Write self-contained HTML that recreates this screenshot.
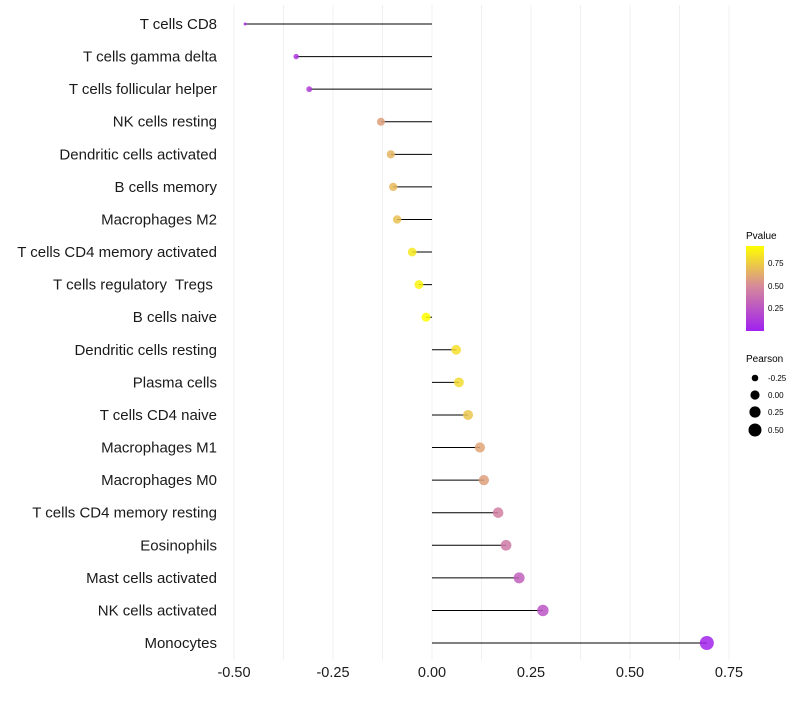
<!DOCTYPE html>
<html><head><meta charset="utf-8"><style>
body{margin:0;background:#fff;font-family:"Liberation Sans",sans-serif}
svg text{font-family:"Liberation Sans",sans-serif}
</style></head><body>
<svg id="c" width="800" height="700">
<defs><linearGradient id="pg" x1="0" y1="1" x2="0" y2="0">
<stop offset="0" stop-color="#a020f0"/><stop offset="0.53" stop-color="#d68a9a"/><stop offset="1" stop-color="#ffff00"/></linearGradient></defs>
<g id="grid"></g><g id="marks"></g><g id="ylab"></g><g id="xlab"></g>
<g>
<text x="746" y="239" font-size="10">Pvalue</text>
<rect x="746" y="246" width="18" height="85" fill="url(#pg)"/>
<text x="768" y="266" font-size="8">0.75</text><text x="768" y="289" font-size="8">0.50</text><text x="768" y="311" font-size="8">0.25</text>
</g>
<g>
<text x="746" y="362" font-size="10">Pearson</text>
<circle cx="755" cy="378" r="3.3"/><text x="768" y="381" font-size="8">-0.25</text>
<circle cx="755" cy="395" r="4.6"/><text x="768" y="398" font-size="8">0.00</text>
<circle cx="755" cy="412" r="5.6"/><text x="768" y="415" font-size="8">0.25</text>
<circle cx="755" cy="430" r="6.5"/><text x="768" y="433" font-size="8">0.50</text>
</g>
</svg>
<script>
const categories=["T cells CD8","T cells gamma delta","T cells follicular helper","NK cells resting","Dendritic cells activated","B cells memory","Macrophages M2","T cells CD4 memory activated","T cells regulatory  Tregs ","B cells naive","Dendritic cells resting","Plasma cells","T cells CD4 naive","Macrophages M1","Macrophages M0","T cells CD4 memory resting","Eosinophils","Mast cells activated","NK cells activated","Monocytes"];
const pearson=[-0.472,-0.343,-0.31,-0.129,-0.104,-0.098,-0.088,-0.05,-0.033,-0.015,0.061,0.068,0.091,0.121,0.131,0.167,0.187,0.22,0.28,0.694];
const pvalue=[0.05,0.1,0.15,0.58,0.66,0.68,0.7,0.85,0.9,0.95,0.82,0.8,0.72,0.6,0.58,0.45,0.42,0.3,0.25,0.02];
const xticks=[-0.5,-0.25,0,0.25,0.5,0.75];
const xs=v=>432+v*396, ys=i=>24+i*32.58;
const rad=v=>Math.sqrt(Math.max(1,21.2+40.3*v));
function lerp(a,b,t){return a.map((x,i)=>Math.round(x+(b[i]-x)*t));}
function col(p){const A=[160,32,240],B=[214,138,154],C=[255,255,0];
 const t=Math.min(1,Math.max(0,p/0.94));
 const c=t<0.53?lerp(A,B,t/0.53):lerp(B,C,(t-0.53)/0.47);return `rgb(${c})`;}
const NS="http://www.w3.org/2000/svg";
function mk(tag,par,at){const e=document.createElementNS(NS,tag);for(const k in at)e.setAttribute(k,at[k]);document.getElementById(par).appendChild(e);return e;}
for(let v=-0.5;v<=0.751;v+=0.125){const g=mk('line','grid',{x1:xs(v),x2:xs(v),y1:5,y2:660,stroke:'#f0f0f0','stroke-width':1});

}
categories.forEach((c,i)=>{
 const l=mk('line','marks',{x1:xs(0),x2:xs(pearson[i]),y1:ys(i),y2:ys(i),stroke:'#000','stroke-width':1});
 
 
 const p=mk('circle','marks',{cx:xs(pearson[i]),cy:ys(i),r:rad(pearson[i]),fill:col(pvalue[i]),'fill-opacity':0.85});
 
 
 const t=mk('text','ylab',{x:217,y:ys(i)+5,'text-anchor':'end','font-size':15,fill:'#1a1a1a','xml:space':'preserve'});
 t.style.whiteSpace='pre';t.textContent=c;
 
 
});
xticks.forEach(v=>{const t=mk('text','xlab',{x:xs(v),y:677,'text-anchor':'middle','font-size':14.5,fill:'#1a1a1a'});t.textContent=v.toFixed(2);
 
 });
</script>
</body></html>
